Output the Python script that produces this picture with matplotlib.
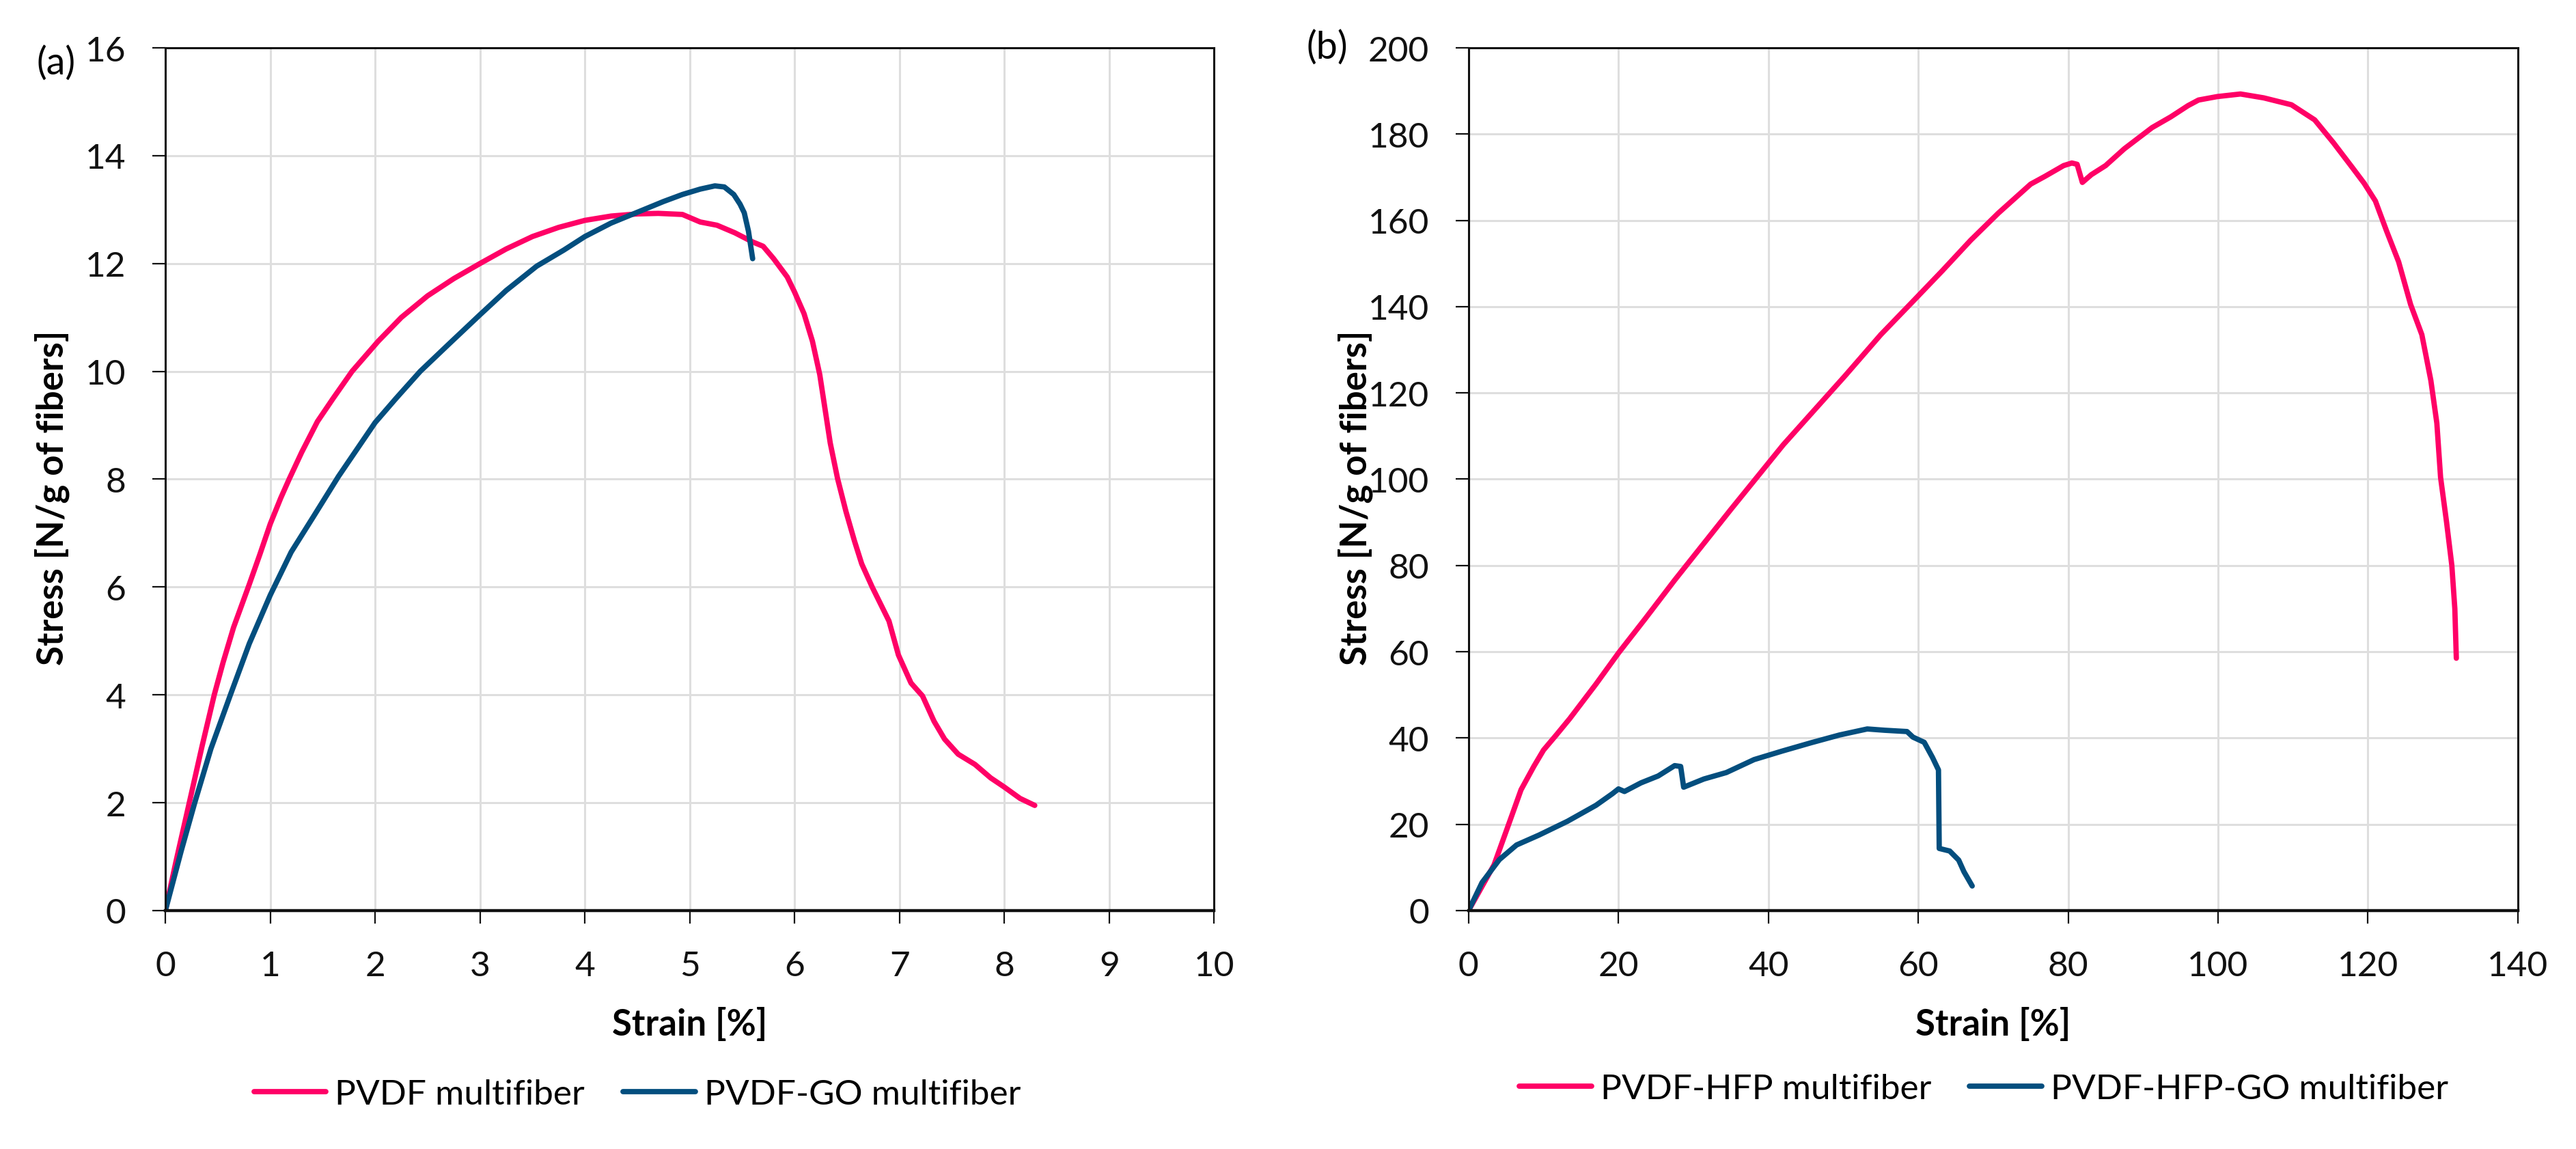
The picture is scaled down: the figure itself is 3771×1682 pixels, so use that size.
import numpy as np
import matplotlib
matplotlib.use("Agg")
import matplotlib.pyplot as plt

# (a) PVDF / PVDF-GO multifiber
strain_pvdf = [0, 0.1, 0.228, 0.35, 0.466, 0.55, 0.65, 0.8, 0.9, 1.0, 1.1, 1.18, 1.3, 1.45,
               1.6, 1.78, 2.03, 2.25, 2.5, 2.75, 3.0, 3.25, 3.5, 3.75, 4.0, 4.25, 4.5, 4.7,
               4.93, 5.1, 5.26, 5.43, 5.6, 5.7, 5.8, 5.93, 6.0, 6.09, 6.17, 6.24, 6.34, 6.41,
               6.49, 6.57, 6.64, 6.74, 6.90, 6.99, 7.11, 7.22, 7.33, 7.43, 7.56, 7.72, 7.87,
               8.0, 8.15, 8.29]
stress_pvdf = [0, 0.9, 2, 3.05, 4, 4.6, 5.25, 6.05, 6.6, 7.17, 7.65, 8, 8.5, 9.07,
               9.5, 10, 10.56, 11.0, 11.4, 11.72, 12.0, 12.27, 12.5, 12.67, 12.8, 12.88, 12.92, 12.93,
               12.91, 12.77, 12.71, 12.57, 12.4, 12.32, 12.09, 11.75, 11.47, 11.07, 10.56, 9.94, 8.67, 8.01,
               7.40, 6.86, 6.43, 6.0, 5.37, 4.74, 4.22, 3.98, 3.51, 3.18, 2.90, 2.71, 2.46,
               2.29, 2.08, 1.95]

strain_pvdf_go = [0, 0.15, 0.28, 0.434, 0.62, 0.8, 1.0, 1.2, 1.41, 1.65, 2.0, 2.2, 2.43, 2.7,
                  3.0, 3.25, 3.54, 3.8, 4.0, 4.25, 4.5, 4.75, 4.93, 5.1, 5.24, 5.33, 5.42,
                  5.48, 5.52, 5.56, 5.6]
stress_pvdf_go = [0, 1.1, 2, 3.0, 4.0, 4.95, 5.85, 6.65, 7.3, 8.05, 9.05, 9.5, 10.0, 10.5,
                  11.05, 11.5, 11.95, 12.25, 12.5, 12.75, 12.95, 13.15, 13.28, 13.38, 13.44, 13.42, 13.28,
                  13.1, 12.94, 12.6, 12.09]

# (b) PVDF-HFP / PVDF-HFP-GO multifiber
strain_hfp = [0, 3.4, 5.6, 7.0, 8.7, 10.0, 11.7, 13.5, 17, 20, 23.5, 27.5, 35, 42, 50.2, 55,
              59.5, 63.2, 67, 70.7, 75, 76.9, 79.4, 80.5, 81.2, 81.9, 83.1, 85, 87.5, 91.2,
              93.7, 96, 97.4, 99.9, 103, 106.1, 109.8, 112.9, 115.4, 117.9, 119.5, 121, 122.5,
              124.1, 125.7, 127.2, 128.4, 129.2, 129.7, 130.5, 131.2, 131.6, 131.8]
stress_hfp = [0, 10.6, 21.2, 28.0, 33.4, 37.2, 40.7, 44.5, 52.5, 59.7, 67.5, 76.6, 93, 108, 123.9, 133.5,
              141.6, 148.3, 155.4, 161.7, 168.4, 170.2, 172.7, 173.3, 173.0, 168.8, 170.6, 172.7, 176.6, 181.5,
              184.0, 186.6, 187.9, 188.7, 189.3, 188.4, 186.8, 183.3, 178, 172.3, 168.6, 164.5, 157.5,
              150.4, 140.5, 133.5, 122.9, 113, 100.4, 90, 80, 70, 58.5]

strain_hfp_go = [0, 1.8, 4.1, 6.4, 9.4, 13.2, 17.0, 19.2, 20.0, 20.8, 23.0, 25.3, 27.5, 28.3,
                 28.7, 31.4, 34.4, 38.1, 41.9, 45.7, 49.5, 53.2, 55.5, 58.5, 59.3, 60.8, 61.9,
                 62.7, 62.8, 64.2, 65.4, 66.1, 67.2]
stress_hfp_go = [0, 6.5, 11.8, 15.2, 17.5, 20.7, 24.4, 27.1, 28.2, 27.6, 29.6, 31.2, 33.6, 33.4,
                 28.6, 30.5, 32.0, 35.0, 37.0, 38.9, 40.7, 42.1, 41.8, 41.5, 40.2, 39.0, 35.5,
                 32.6, 14.4, 13.8, 11.7, 9.0, 5.7]

PINK = "#FF0066"
BLUE = "#034E7E"

plt.rcParams['font.family'] = ['Lato', 'DejaVu Sans']

fig = plt.figure(figsize=(37.71, 16.83), dpi=100)
ax_a = fig.add_axes([0.0642, 0.2074, 0.4071, 0.7504])
ax_b = fig.add_axes([0.5701, 0.2074, 0.4073, 0.7504])


def style_axis(ax, xmax, xstep, ymax, ystep):
    ax.set_xlim(0, xmax)
    ax.set_ylim(0, ymax)
    ax.set_xticks(np.arange(0, xmax + xstep / 2, xstep))
    ax.set_yticks(np.arange(0, ymax + ystep / 2, ystep))
    ax.set_axisbelow(True)
    ax.grid(True, color="#dedede", linewidth=2.2)
    for side in ["top", "right", "left"]:
        ax.spines[side].set_linewidth(2.2)
        ax.spines[side].set_color("#111111")
    ax.spines["bottom"].set_linewidth(3.2)
    ax.spines["bottom"].set_color("#111111")
    ax.tick_params(direction="out", length=13.5, width=1.6, pad=28,
                   labelsize=37, colors="#111111")
    ax.set_xlabel("Strain [%]", fontsize=38, fontweight="bold")
    ax.set_ylabel("Stress [N/g of fibers]", fontsize=38, fontweight="bold")
    ax.xaxis.set_label_coords(0.5, -0.112)
    ax.yaxis.set_label_coords(-0.091, 0.479)


line_kw = dict(linewidth=5.6, solid_capstyle="round", solid_joinstyle="round")

ax_a.plot(strain_pvdf, stress_pvdf, color=PINK, label="PVDF multifiber", **line_kw)
ax_a.plot(strain_pvdf_go, stress_pvdf_go, color=BLUE, label="PVDF-GO multifiber", **line_kw)
style_axis(ax_a, 10, 1, 16, 2)

ax_b.plot(strain_hfp, stress_hfp, color=PINK, label="PVDF-HFP multifiber", **line_kw)
ax_b.plot(strain_hfp_go, stress_hfp_go, color=BLUE, label="PVDF-HFP-GO multifiber", **line_kw)
style_axis(ax_b, 140, 20, 200, 20)

# panel letters
fig.text(82 / 3771, 1 - 93 / 1683, "(a)", fontsize=40, ha="center", va="center")
fig.text(1943 / 3771, 1 - 70 / 1683, "(b)", fontsize=40, ha="center", va="center")

legend_kw = dict(ncol=2, frameon=False, fontsize=37, handlelength=2.05,
                 handletextpad=0.25, columnspacing=1.1, loc="center")
fig.legend(*ax_a.get_legend_handles_labels(),
           bbox_to_anchor=(933 / 3771, 1 - 1603 / 1683), **legend_kw)
fig.legend(*ax_b.get_legend_handles_labels(),
           bbox_to_anchor=(2904 / 3771, 1 - 1595 / 1683), **legend_kw)

fig.savefig("out.png", dpi=100)
